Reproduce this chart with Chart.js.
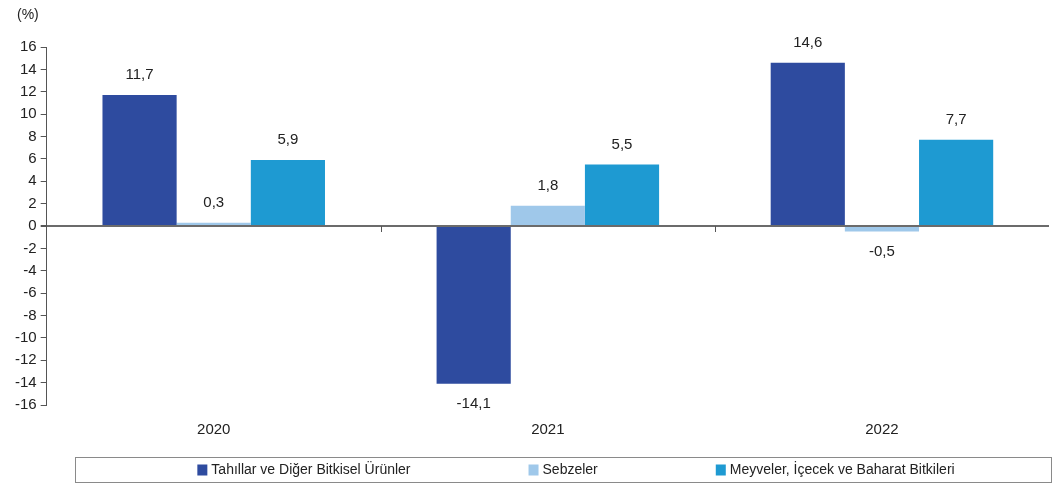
<!DOCTYPE html>
<html><head><meta charset="utf-8">
<script src="https://cdn.jsdelivr.net/npm/chart.js@4/dist/chart.umd.min.js"></script>
<style>html,body{margin:0;padding:0;background:#fff;}#wrap{width:1053px;height:483px;position:relative;}</style>
</head><body><div id="wrap"><canvas id="c" width="1053" height="483"></canvas></div>
<script>
const categories = ['2020', '2021', '2022'];
const seriesNames = ['Tahıllar ve Diğer Bitkisel Ürünler', 'Sebzeler', 'Meyveler, İçecek ve Baharat Bitkileri'];
const tahillar = [11.7, -14.1, 14.6];
const sebzeler = [0.3, 1.8, -0.5];
const meyveler = [5.9, 5.5, 7.7];
const yTicks = [-16, -14, -12, -10, -8, -6, -4, -2, 0, 2, 4, 6, 8, 10, 12, 14, 16];
const unitLabel = '(%)';

const colors = ['#2E4B9F', '#9FC8EA', '#1E9AD2'];
const FONT = "'Liberation Sans Narrow', 'Arial Narrow', 'Liberation Sans', Arial, sans-serif";
const fmt = v => v.toFixed(1).replace('.', ',');

const extras = {
  id: 'extras',
  afterDatasetsDraw(chart) {
    const ctx = chart.ctx;
    const x = chart.scales.x, y = chart.scales.y;
    const y0 = y.getPixelForValue(0);
    ctx.save();
    ctx.strokeStyle = '#555';
    ctx.lineWidth = 1;
    for (let i = 1; i < categories.length; i++) {
      const px = Math.round(x.getPixelForValue(i - 0.5)) + 0.5;
      ctx.beginPath(); ctx.moveTo(px, y0); ctx.lineTo(px, y0 + 6); ctx.stroke();
    }
    ctx.fillStyle = '#222';
    ctx.font = '15px ' + FONT;
    ctx.textAlign = 'center';
    ctx.textBaseline = 'middle';
    chart.data.datasets.forEach((ds, di) => {
      const meta = chart.getDatasetMeta(di);
      meta.data.forEach((bar, i) => {
        const v = ds.data[i];
        const ly = v >= 0 ? bar.y - 20 : bar.y + 20;
        ctx.fillText(fmt(v), bar.x, ly);
      });
    });
    ctx.textAlign = 'left';
    ctx.font = '14px ' + FONT;
    ctx.fillText(unitLabel, 17, 15);
    const bx = 75, by = 457, bw = 1053 - 75 - 2, bh = 25;
    ctx.strokeStyle = '#8a8a8a';
    ctx.strokeRect(bx + 0.5, by + 0.5, bw, bh);
    ctx.font = '14px ' + FONT;
    const box = 10, gapBox = 4, gapItem = 118;
    const widths = chart.data.datasets.map(ds => box + gapBox + ctx.measureText(ds.label).width);
    const total = widths.reduce((a, b) => a + b, 0) + gapItem * (widths.length - 1);
    let cx = 576 - total / 2;
    const cy = by + bh / 2 + 1;
    chart.data.datasets.forEach((ds, di) => {
      ctx.fillStyle = ds.backgroundColor;
      ctx.fillRect(cx, cy - box / 2 - 1, box, box + 1);
      ctx.fillStyle = '#222';
      ctx.fillText(ds.label, cx + box + gapBox, cy);
      cx += widths[di] + gapItem;
    });
    ctx.restore();
  }
};

new Chart(document.getElementById('c'), {
  type: 'bar',
  data: {
    labels: categories,
    datasets: [
      { label: seriesNames[0], data: tahillar, backgroundColor: colors[0] },
      { label: seriesNames[1], data: sebzeler, backgroundColor: colors[1] },
      { label: seriesNames[2], data: meyveler, backgroundColor: colors[2] }
    ]
  },
  options: {
    responsive: false,
    animation: false,
    devicePixelRatio: 1,
    categoryPercentage: 0.666,
    barPercentage: 1.0,
    layout: { padding: { top: 47, right: 4, left: 11, bottom: 28 } },
    plugins: { legend: { display: false }, tooltip: { enabled: false } },
    scales: {
      x: {
        grid: { display: false, drawTicks: false },
        border: { display: false },
        ticks: { color: '#222', font: { family: FONT, size: 15 }, padding: 16 }
      },
      y: {
        min: -16, max: 16,
        afterBuildTicks: axis => { axis.ticks = yTicks.map(v => ({ value: v })); },
        grid: {
          drawOnChartArea: true,
          color: c => (c.tick && c.tick.value === 0) ? '#6b6b6b' : 'rgba(0,0,0,0)',
          lineWidth: c => (c.tick && c.tick.value === 0) ? 2 : 1,
          tickColor: '#555', tickLength: 6, drawTicks: true
        },
        border: { display: true, color: '#555', width: 1 },
        ticks: { color: '#222', font: { family: FONT, size: 15 }, padding: 4, autoSkip: false, callback: v => String(v) }
      }
    }
  },
  plugins: [extras]
});
</script></body></html>
